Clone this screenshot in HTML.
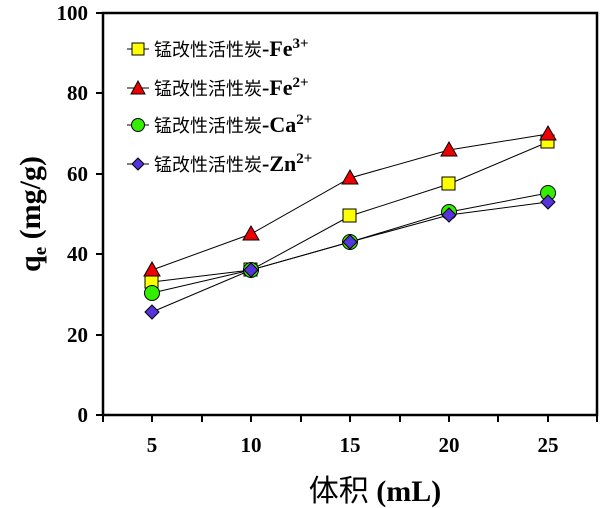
<!DOCTYPE html>
<html><head><meta charset="utf-8"><style>
html,body{margin:0;padding:0;background:#fff;width:600px;height:508px;overflow:hidden}
</style></head><body>
<svg width="600" height="508" viewBox="0 0 600 508" xmlns="http://www.w3.org/2000/svg">
<g stroke="#000" stroke-width="2.5" fill="none">
<rect x="103" y="13" width="494" height="402"/>
</g>
<g stroke="#000" stroke-width="2">
<line x1="96" y1="415" x2="103" y2="415"/><line x1="96" y1="335" x2="103" y2="335"/><line x1="96" y1="254" x2="103" y2="254"/><line x1="96" y1="174" x2="103" y2="174"/><line x1="96" y1="93" x2="103" y2="93"/><line x1="96" y1="13" x2="103" y2="13"/>
<line x1="103" y1="415" x2="103" y2="422"/><line x1="152" y1="415" x2="152" y2="422"/><line x1="202" y1="415" x2="202" y2="422"/><line x1="251" y1="415" x2="251" y2="422"/><line x1="301" y1="415" x2="301" y2="422"/><line x1="350" y1="415" x2="350" y2="422"/><line x1="400" y1="415" x2="400" y2="422"/><line x1="449" y1="415" x2="449" y2="422"/><line x1="498" y1="415" x2="498" y2="422"/><line x1="548" y1="415" x2="548" y2="422"/><line x1="597" y1="415" x2="597" y2="422"/>
</g>
<g font-family="Liberation Serif, serif" font-weight="bold" font-size="21" text-anchor="end">
<text x="88" y="422">0</text><text x="88" y="342">20</text><text x="88" y="261">40</text><text x="88" y="181">60</text><text x="88" y="100">80</text><text x="88" y="20">100</text>
</g>
<g font-family="Liberation Serif, serif" font-weight="bold" font-size="21" text-anchor="middle">
<text x="152" y="452">5</text><text x="251" y="452">10</text><text x="350" y="452">15</text><text x="449" y="452">20</text><text x="548" y="452">25</text>
</g>
<text x="375" y="501" text-anchor="middle" font-size="30" font-family="Liberation Serif, 'Noto Sans CJK SC', serif"><tspan font-family="'Noto Sans CJK SC', sans-serif">体积</tspan><tspan font-weight="bold"> (mL)</tspan></text>
<text transform="translate(40,214) rotate(-90)" text-anchor="middle" font-family="Liberation Serif, serif" font-weight="bold" font-size="30">q<tspan font-size="19" dy="6">e</tspan><tspan dy="-6"> (mg/g)</tspan></text>
<g stroke="#000" stroke-width="1" fill="none">
<polyline points="152,282 251,270 350,216 449,184 548,142"/>
<polyline points="152,270 251,234 350,178 449,150 548,134"/>
<polyline points="152,293 251,270 350,242 449,212 548,193"/>
<polyline points="152,312 251,270 350,242 449,215 548,202"/>
</g>
<g stroke="#000" stroke-width="1">
<g fill="#ffff00"><rect x="145" y="275" width="13" height="13"/><rect x="244" y="263" width="13" height="13"/><rect x="343" y="209" width="13" height="13"/><rect x="442" y="177" width="13" height="13"/><rect x="541" y="135" width="13" height="13"/></g>
<g fill="#ee0000"><polygon points="152,262 160,276 144,276"/><polygon points="251,226 259,240 243,240"/><polygon points="350,170 358,184 342,184"/><polygon points="449,142 457,156 441,156"/><polygon points="548,126 556,140 540,140"/></g>
<g fill="#33ee00"><circle cx="152" cy="293" r="7.5"/><circle cx="251" cy="270" r="7.5"/><circle cx="350" cy="242" r="7.5"/><circle cx="449" cy="212" r="7.5"/><circle cx="548" cy="193" r="7.5"/></g>
<g fill="#5533dd"><polygon points="152,305 159,312 152,319 145,312"/><polygon points="251,263 258,270 251,277 244,270"/><polygon points="350,235 357,242 350,249 343,242"/><polygon points="449,208 456,215 449,222 442,215"/><polygon points="548,195 555,202 548,209 541,202"/></g>
</g>
<g stroke="#000" stroke-width="1">
<line x1="127" y1="49" x2="149" y2="49"/><line x1="127" y1="88" x2="149" y2="88"/><line x1="127" y1="125" x2="149" y2="125"/><line x1="127" y1="164" x2="149" y2="164"/>
<rect x="132" y="43" width="12" height="12" fill="#ffff00"/>
<polygon points="138,81 145,94 131,94" fill="#ee0000"/>
<circle cx="138" cy="125" r="6.5" fill="#33ee00"/>
<polygon points="138,158 144,164 138,170 132,164" fill="#5533dd"/>
</g>
<g font-size="18" font-family="'Noto Sans CJK SC', sans-serif">
<text x="154" y="56">锰改性活性炭<tspan font-family="Liberation Serif, serif" font-weight="bold" font-size="22">-Fe<tspan font-size="15" dy="-8">3+</tspan></tspan></text>
<text x="154" y="95">锰改性活性炭<tspan font-family="Liberation Serif, serif" font-weight="bold" font-size="22">-Fe<tspan font-size="15" dy="-8">2+</tspan></tspan></text>
<text x="154" y="132">锰改性活性炭<tspan font-family="Liberation Serif, serif" font-weight="bold" font-size="22">-Ca<tspan font-size="15" dy="-8">2+</tspan></tspan></text>
<text x="154" y="171">锰改性活性炭<tspan font-family="Liberation Serif, serif" font-weight="bold" font-size="22">-Zn<tspan font-size="15" dy="-8">2+</tspan></tspan></text>
</g>
</svg>
</body></html>
